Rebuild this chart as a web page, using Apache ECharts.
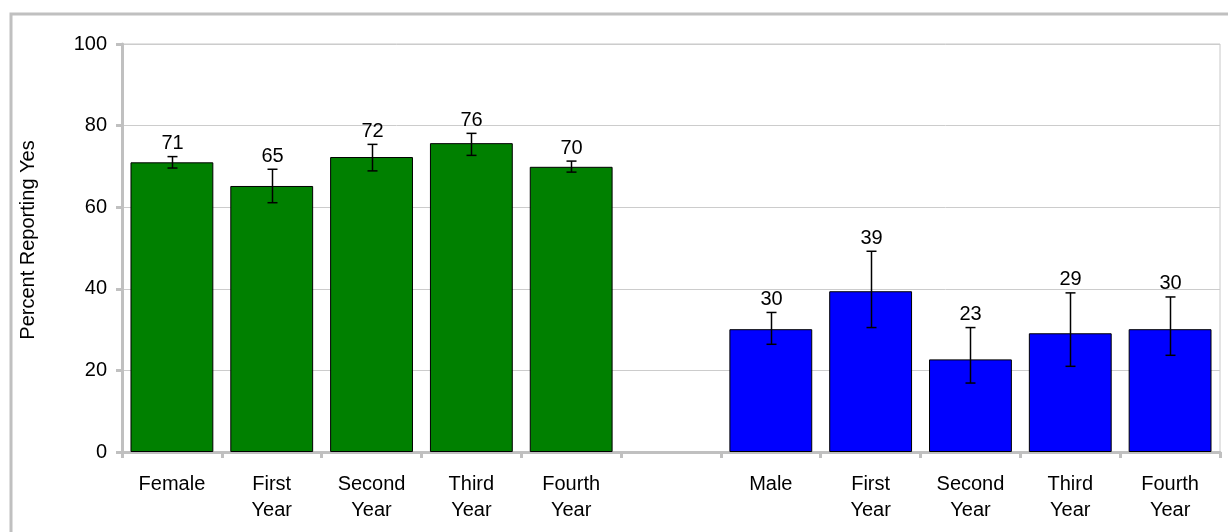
<!DOCTYPE html>
<html>
<head>
<meta charset="utf-8">
<script src="https://cdn.jsdelivr.net/npm/echarts@6/dist/echarts.min.js"></script>
<style>
html,body{margin:0;padding:0;background:#fff;}
#chart{width:1228px;height:532px;}
</style>
</head>
<body>
<div id="chart"></div>
<script>
const categories = ['Female','First\nYear','Second\nYear','Third\nYear','Fourth\nYear','','Male','First\nYear','Second\nYear','Third\nYear','Fourth\nYear'];
const values   = [71.0, 65.2, 72.3, 75.7, 69.9, null, 30.1, 39.4, 22.7, 29.1, 30.1];
const errHigh  = [72.4, 69.3, 75.4, 78.1, 71.3, null, 34.2, 49.2, 30.5, 39.0, 38.0];
const errLow   = [69.6, 61.1, 68.9, 72.7, 68.6, null, 26.4, 30.5, 16.9, 21.0, 23.7];
const groupOf  = ['F','F','F','F','F','','M','M','M','M','M'];
const yTicks   = [0, 20, 40, 60, 80, 100];
const yAxisTitle = 'Percent Reporting Yes';

const colors = {F:'#008000', M:'#0000ff'};
const FONT = 'Liberation Sans, Arial, sans-serif';

const barData = values.map((v,i) => v == null ? null : {
  value: v,
  itemStyle: {color: colors[groupOf[i]], borderColor:'#000', borderWidth:1}
});
const errData = values.map((v,i) => v == null ? null : [i, errLow[i], errHigh[i], v]);

const chart = echarts.init(document.getElementById('chart'));
chart.setOption({
  animation:false,
  textStyle:{fontFamily:FONT},
  graphic:[{
    type:'rect', silent:true, z:-10,
    shape:{x:11, y:14, width:1400, height:700},
    style:{fill:'none', stroke:'#c0c0c0', lineWidth:3}
  },{
    type:'text', silent:true, x:28, y:240, rotation:Math.PI/2,
    style:{text:yAxisTitle, fill:'#000', fontSize:20, fontFamily:FONT,
      align:'center', verticalAlign:'middle'}
  }],
  grid:{left:122, right:8, top:44, bottom:80, show:true, borderColor:'#c8c8c8', borderWidth:1},
  xAxis:{
    type:'category', data:categories,
    axisLine:{lineStyle:{color:'#c0c0c0', width:3}},
    axisTick:{show:true, length:6, lineStyle:{color:'#c0c0c0', width:3}},
    axisLabel:{color:'#000', fontSize:20, lineHeight:26, margin:19, interval:0}
  },
  yAxis:{
    type:'value', min:0, max:100, interval:20,
    axisLine:{show:true, lineStyle:{color:'#c0c0c0', width:3}},
    axisTick:{show:true, length:6, lineStyle:{color:'#c0c0c0', width:3}},
    axisLabel:{color:'#000', fontSize:20, margin:15,
      formatter: v => yTicks.includes(v) ? String(v) : ''},
    splitLine:{lineStyle:{color:'#cccccc', width:1}}
  },
  series:[{
    type:'bar', data:barData, barCategoryGap:'17%'
  },{
    type:'custom', data:errData, z:5,
    renderItem:function(params, api){
      const x = api.value(0);
      const lo = api.coord([x, api.value(1)]);
      const hi = api.coord([x, api.value(2)]);
      const cx = Math.round(lo[0]) + 0.5;
      const h = 5;
      const st = {stroke:'#000', lineWidth:1.5};
      return {type:'group', children:[
        {type:'line', shape:{x1:cx, y1:hi[1], x2:cx, y2:lo[1]}, style:st},
        {type:'line', shape:{x1:cx-h, y1:hi[1], x2:cx+h, y2:hi[1]}, style:st},
        {type:'line', shape:{x1:cx-h, y1:lo[1], x2:cx+h, y2:lo[1]}, style:st},
        {type:'text', x:cx, y:hi[1]-3, style:{
          text:String(Math.round(api.value(3))), fill:'#000', fontSize:20,
          fontFamily:FONT, align:'center', verticalAlign:'bottom'}}
      ]};
    }
  }]
});
</script>
</body>
</html>
